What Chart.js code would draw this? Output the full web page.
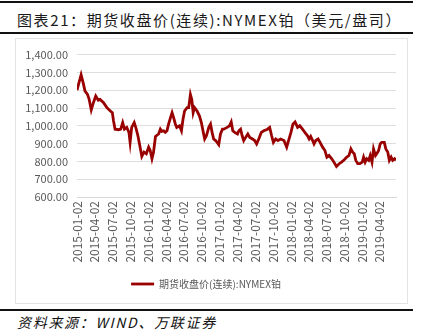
<!DOCTYPE html>
<html>
<head>
<meta charset="utf-8">
<script src="https://cdn.jsdelivr.net/npm/chart.js@4/dist/chart.umd.min.js"></script>
<style>
  html, body { margin: 0; padding: 0; background: #fff; }
  body { width: 421px; height: 336px; position: relative; overflow: hidden; font-family: "Noto Sans CJK SC", sans-serif; }
  .rule { position: absolute; left: 0; width: 413px; background: #111; }
  #title { position: absolute; left: 17px; top: 9px; font-size: 15px; line-height: 22px; color: #1a1a1a; letter-spacing: 1.6px; white-space: nowrap; font-weight: 400; }
  #source { position: absolute; left: 17px; top: 311px; font-size: 14px; line-height: 22px; color: #111; font-style: italic; letter-spacing: 1.7px; white-space: nowrap; }
  #box { position: absolute; left: 15px; top: 38px; width: 391px; height: 264px; border: 1px solid #e3e3e3; }
  #chartWrap { position: absolute; left: 0; top: 0; width: 391px; height: 264px; }
</style>
</head>
<body>
<div class="rule" style="top:1px;height:2px;"></div>
<div id="title">图表21：期货收盘价(连续):NYMEX铂（美元/盘司）</div>
<div class="rule" style="top:32px;height:2px;"></div>
<div id="box"><div id="chartWrap"><canvas id="c" width="391" height="264"></canvas></div></div>
<div class="rule" style="top:309px;height:2px;"></div>
<div id="source">资料来源：WIND、万联证券</div>
<script>
// NYMEX platinum continuous futures close, USD per ounce
const seriesName = '期货收盘价(连续):NYMEX铂';

const dates = [
  '2015-01-02','2015-01-23','2015-02-03','2015-02-12','2015-02-24','2015-03-05','2015-03-16','2015-03-27',
  '2015-04-08','2015-04-21','2015-04-30','2015-05-18','2015-06-04','2015-06-22','2015-07-02','2015-07-08',
  '2015-07-16','2015-08-03','2015-08-14','2015-08-24','2015-09-02','2015-09-14','2015-09-25','2015-10-01',
  '2015-10-09','2015-10-22','2015-10-30','2015-11-10','2015-11-23','2015-11-30','2015-12-11','2015-12-23',
  '2016-01-04','2016-01-12','2016-01-21','2016-01-29','2016-02-08','2016-02-24','2016-03-04','2016-03-11',
  '2016-03-21','2016-03-29','2016-04-07','2016-04-15','2016-04-25','2016-05-03','2016-05-11','2016-05-20',
  '2016-05-27','2016-06-10','2016-06-20','2016-06-28','2016-07-06','2016-07-19','2016-07-27','2016-08-05',
  '2016-08-12','2016-08-19','2016-08-26','2016-09-08','2016-09-20','2016-09-30','2016-10-10','2016-10-17',
  '2016-10-26','2016-11-07','2016-11-16','2016-11-24','2016-12-02','2016-12-12','2016-12-20','2016-12-28',
  '2017-01-06','2017-01-16','2017-01-23','2017-02-09','2017-02-21','2017-03-02','2017-03-10','2017-03-20',
  '2017-04-03','2017-04-10','2017-04-19','2017-04-27','2017-05-05','2017-05-15','2017-05-26','2017-06-05',
  '2017-06-19','2017-06-30','2017-07-10','2017-07-21','2017-08-03','2017-08-16','2017-09-04','2017-09-15',
  '2017-09-25','2017-10-04','2017-10-16','2017-10-27','2017-11-10','2017-11-27','2017-12-11','2017-12-18',
  '2018-01-02','2018-01-12','2018-01-23','2018-02-05','2018-02-16','2018-03-02','2018-03-14','2018-03-28',
  '2018-04-05','2018-04-13','2018-04-23','2018-04-30','2018-05-09','2018-05-21','2018-05-31','2018-06-13',
  '2018-06-25','2018-07-05','2018-07-16','2018-07-30','2018-08-10','2018-08-23','2018-09-06','2018-09-18',
  '2018-10-02','2018-10-15','2018-10-26','2018-11-05','2018-11-14','2018-11-22','2018-11-30','2018-12-10',
  '2018-12-21','2019-01-02','2019-01-09','2019-01-17','2019-01-25','2019-02-04','2019-02-12','2019-02-21',
  '2019-03-01','2019-03-11','2019-03-19','2019-03-27','2019-04-04','2019-04-12','2019-04-25','2019-05-03',
  '2019-05-13','2019-05-21','2019-05-30','2019-06-07','2019-06-17','2019-06-24'
];

const closes = [
  1200,1287,1240,1195,1178,1150,1089,1130,
  1167,1144,1148,1130,1102,1083,1074,1028,
  981,978,981,1018,981,991,963,907,
  991,1018,991,944,870,828,852,843,
  880,861,815,852,940,954,981,969,
  972,963,972,1009,1046,1074,1046,1009,
  991,1000,972,1037,1083,1102,1102,1176,
  1148,1074,1102,1083,1056,1018,963,926,
  944,991,1009,963,926,917,907,894,
  954,981,981,991,1000,1022,972,963,
  954,972,981,944,917,935,954,935,
  926,917,898,926,963,972,981,991,
  944,907,926,917,926,917,880,907,
  963,1009,1022,991,1000,981,963,944,
  926,940,917,898,917,926,907,880,
  861,824,833,815,796,772,787,796,
  809,824,833,870,852,843,806,787,
  787,796,824,796,815,806,833,796,
  870,833,846,861,898,907,907,870,
  852,806,824,806,815,806
];

// Quarterly date ticks along the bottom axis
const tickDates = [
  '2015-01-02','2015-04-02','2015-07-02','2015-10-02','2016-01-02','2016-04-02',
  '2016-07-02','2016-10-02','2017-01-02','2017-04-02','2017-07-02','2017-10-02',
  '2018-01-02','2018-04-02','2018-07-02','2018-10-02','2019-01-02','2019-04-02'
];

const yMin = 600, yMax = 1400, yStep = 100;

const toTime = s => Date.parse(s + 'T00:00:00Z');
const fmtDate = t => new Date(t).toISOString().slice(0, 10);
const points = dates.map((d, i) => ({ x: toTime(d), y: closes[i] }));

const tickFont = { family: "'Noto Sans CJK SC', 'Liberation Sans', sans-serif", size: 11 };
const gray = '#595959';

new Chart(document.getElementById('c'), {
  type: 'line',
  data: {
    datasets: [{
      label: seriesName,
      data: points,
      borderColor: '#990000',
      backgroundColor: '#990000',
      borderWidth: 2.8,
      pointRadius: 0,
      tension: 0,
      fill: false
    }]
  },
  options: {
    responsive: false,
    animation: false,
    devicePixelRatio: 1,
    layout: { padding: { left: 0, right: 11, top: 15, bottom: 4 } },
    scales: {
      x: {
        type: 'linear',
        min: toTime(dates[0]),
        max: toTime(dates[dates.length - 1]),
        afterBuildTicks: axis => { axis.ticks = tickDates.map(d => ({ value: toTime(d) })); },
        afterFit: axis => { axis.height = 72; },
        grid: { display: false, drawTicks: false },
        border: { display: true, color: '#d9d9d9', width: 1 },
        ticks: {
          autoSkip: false,
          minRotation: 90,
          maxRotation: 90,
          padding: 4,
          color: gray,
          font: { family: tickFont.family, size: 12 },
          callback: v => fmtDate(v)
        }
      },
      y: {
        min: yMin,
        max: yMax,
        afterFit: axis => { axis.width = 61; },
        border: { display: false },
        grid: { color: '#dedede', lineWidth: 1, drawTicks: false },
        ticks: {
          stepSize: yStep,
          padding: 9,
          color: gray,
          font: tickFont,
          callback: v => Number(v).toLocaleString('en-US', { minimumFractionDigits: 2, maximumFractionDigits: 2 })
        }
      }
    },
    plugins: {
      legend: {
        position: 'bottom',
        labels: {
          usePointStyle: true,
          pointStyle: 'line',
          pointStyleWidth: 23,
          boxHeight: 10,
          color: gray,
          padding: 10,
          font: { family: "'Noto Sans CJK SC', sans-serif", size: 10 }
        }
      },
      tooltip: { enabled: false }
    }
  }
});
</script>
</body>
</html>
